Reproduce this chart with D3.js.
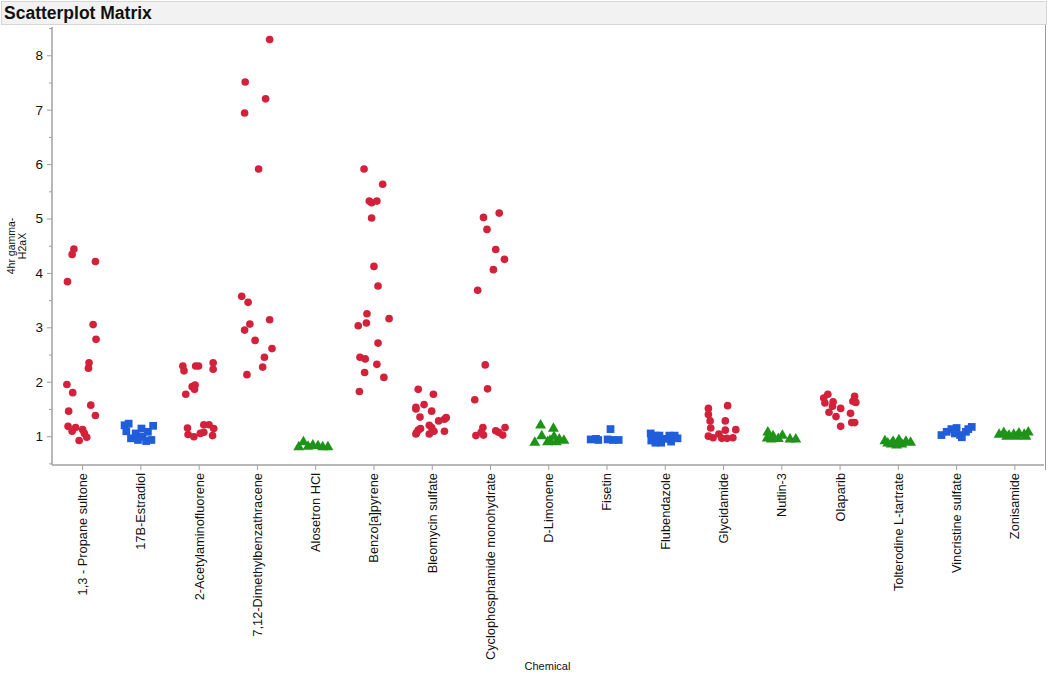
<!DOCTYPE html>
<html><head><meta charset="utf-8">
<script src="https://cdn.jsdelivr.net/npm/d3@7"></script>
<style>body{margin:0;background:#fff;font-family:"Liberation Sans",Arial,Helvetica,sans-serif;}</style>
</head><body><svg id="c" width="1050" height="675"></svg>
<script>
const categories = ["1,3 - Propane sultone","17B-Estradiol","2-Acetylaminofluorene","7,12-Dimethylbenzathracene","Alosetron HCl","Benzo[a]pyrene","Bleomycin sulfate","Cyclophosphamide monohydrate","D-Limonene","Fisetin","Flubendazole","Glycidamide","Nutlin-3","Olaparib","Tolterodine L-tartrate","Vincristine sulfate","Zonisamide"];
// marker class per chemical: 0 = red circle, 1 = blue square, 2 = green triangle
const markerClass = [0,1,0,0,2,0,0,0,2,1,1,0,2,0,2,1,2];
const yTicks = [1,2,3,4,5,6,7,8];
const yMinorTicks = [0.5,1.5,2.5,3.5,4.5,5.5,6.5,7.5,8.5];
// measured 4hr gamma-H2aX values per chemical
const values = [
 [4.44,4.34,4.21,3.84,3.05,2.78,2.35,2.25,1.95,1.80,1.57,1.46,1.38,1.18,1.16,1.09,1.12,1.05,0.98,0.92],
 [1.20,1.23,1.09,0.96,1.05,1.14,0.99,0.91,0.93,1.19,0.93,1.08],
 [2.29,2.20,2.29,2.29,2.35,2.23,1.91,1.94,1.86,1.77,1.15,1.03,0.99,1.05,1.07,1.21,1.21,1.14,1.01],
 [8.29,7.51,7.20,6.94,5.91,3.57,3.46,3.14,3.06,2.95,2.76,2.61,2.45,2.27,2.13],
 [0.80,0.89,0.81,0.83,0.82,0.80,0.80],
 [5.91,5.63,5.32,5.29,5.32,5.01,4.12,3.76,3.25,3.16,3.08,3.03,2.71,2.45,2.42,2.32,2.17,2.08,1.82],
 [1.86,1.77,1.58,1.53,1.50,1.46,1.35,1.34,1.31,1.28,1.20,1.16,1.14,1.11,1.06,1.09,1.04,1.09,1.04],
 [5.10,5.02,4.80,4.43,4.25,4.06,3.68,2.31,1.87,1.67,1.16,1.07,1.01,1.10,1.07,1.16,1.02,1.02],
 [1.20,1.14,1.00,0.88,0.89,0.99,0.92,0.94,0.92,0.89],
 [1.13,0.94,0.95,0.94,0.93,0.93,0.93],
 [1.05,0.92,0.88,1.01,0.95,1.01,1.01,0.96,0.90,0.88,1.01],
 [1.51,1.56,1.40,1.28,1.28,1.15,1.11,1.12,1.00,0.97,1.04,0.96,0.96,0.97],
 [1.07,0.96,1.00,0.95,1.01,0.94,0.94,0.94],
 [1.77,1.70,1.63,1.61,1.55,1.51,1.44,1.36,1.18,1.73,1.64,1.62,1.42,1.25,1.25],
 [0.91,0.87,0.90,0.93,0.85,0.90,0.88,0.83,0.85],
 [1.02,1.08,1.13,1.15,1.02,0.98,1.13,1.17,1.08,1.05],
 [1.03,1.06,1.01,1.03,1.05,1.03,1.07,0.99,0.99,0.99]
];
// horizontal jitter of each point, as a fraction of the category band
const jitter = [
 [-0.15,-0.18,0.22,-0.26,0.18,0.23,0.11,0.10,-0.27,-0.17,0.14,-0.24,0.22,-0.25,-0.12,-0.18,0,0.03,0.07,-0.06],
 [-0.28,-0.21,-0.25,-0.17,-0.09,0.01,0.03,0.09,0.18,0.21,-0.05,0.12],
 [-0.28,-0.26,-0.06,-0.01,0.24,0.24,-0.12,-0.07,-0.08,-0.23,-0.20,-0.19,-0.09,0.02,0.08,0.08,0.17,0.25,0.23],
 [0.21,-0.21,0.14,-0.22,0.02,-0.27,-0.16,0.21,-0.13,-0.22,-0.04,0.25,0.12,0.09,-0.18],
 [-0.29,-0.21,-0.13,-0.05,0.04,0.12,0.21],
 [-0.17,0.15,-0.08,-0.04,0.05,-0.04,0,0.07,-0.12,0.26,-0.13,-0.27,0.07,-0.24,-0.15,0.05,-0.16,0.17,-0.25],
 [-0.24,0.02,-0.14,-0.28,-0.28,-0.01,-0.21,0.24,0.21,0.11,-0.05,-0.01,-0.20,-0.24,-0.27,0.03,-0.05,0.21,-0.28],
 [0.15,-0.12,-0.06,0.09,0.24,0.05,-0.22,-0.09,-0.05,-0.27,-0.13,-0.16,-0.25,0.09,0.14,0.25,0.21,-0.12],
 [-0.14,0.08,-0.12,-0.24,-0.02,0.09,0.02,0.18,0.26,0.13],
 [0.06,-0.28,-0.19,0.01,0.10,0.20,-0.15],
 [-0.25,-0.24,-0.17,-0.10,-0.01,0.07,0.16,0.21,0.10,-0.07,-0.16],
 [-0.26,0.07,-0.26,-0.23,0.03,-0.22,0.03,0.21,-0.26,-0.18,-0.08,-0.03,0.06,0.16],
 [-0.24,-0.25,-0.15,-0.06,0.01,0.14,0.24,-0.18],
 [-0.21,-0.28,-0.12,-0.26,-0.13,0.01,-0.19,-0.07,0.01,0.25,0.22,0.27,0.18,0.20,0.25],
 [-0.23,-0.18,-0.09,0.01,0.06,0.13,0.21,-0.03,-0.12],
 [-0.26,-0.17,-0.09,0,0.06,0.09,0.20,0.26,0.16,-0.03],
 [-0.27,-0.19,-0.10,-0.02,0.07,0.16,0.23,-0.14,0.03,0.19]
];
const yTitleLines = ["4hr gamma-","H2aX"];
const xTitle = "Chemical";
const chartTitle = "Scatterplot Matrix";

const colors = ["#d3203b","#1f5ddb","#1d9418"];
const symbols = [d3.symbolCircle, d3.symbolSquare, d3.symbolTriangle];
const symSizes = [46, 60, 52];

const svg = d3.select("#c");
const font = '"Liberation Sans",Arial,Helvetica,sans-serif';

// title bar
svg.append("rect").attr("x",1.5).attr("y",1.5).attr("width",1045).attr("height",23)
  .attr("fill","#f2f2f2").attr("stroke","#d6d6d6");
svg.append("text").attr("x",4).attr("y",19).attr("font-family",font)
  .attr("font-weight","bold").attr("font-size","17.5px").attr("fill","#111").text(chartTitle);
svg.append("line").attr("x1",1045.5).attr("x2",1045.5).attr("y1",25).attr("y2",470).attr("stroke","#9a9a9a");

const pLeft = 52, pRight = 1043, pTop = 27, pBottom = 465;
const x = d3.scaleBand().domain(categories).range([53.5, 1044]).padding(0);
const y = d3.scaleLinear().domain([0.47, 8.52]).range([pBottom, pTop]);

// y axis
const gy = svg.append("g").attr("transform",`translate(${pLeft},0)`);
gy.call(d3.axisLeft(y).tickValues(yTicks).tickSize(5).tickPadding(4).tickFormat(d3.format("d")));
gy.append("g").call(d3.axisLeft(y).tickValues(yMinorTicks).tickSize(3).tickFormat(""));
gy.selectAll(".domain").remove();
gy.append("line").attr("x1",0).attr("x2",0).attr("y1",pTop).attr("y2",pBottom).attr("stroke","#a0a0a0").attr("stroke-width",1.5);
gy.selectAll(".tick line").attr("stroke","#a0a0a0");
gy.selectAll(".tick text").attr("font-family",font).attr("font-size","13.5px").attr("fill","#111");

// x axis
const gx = svg.append("g").attr("transform",`translate(0,${pBottom})`);
gx.call(d3.axisBottom(x).tickSize(5).tickPadding(4));
gx.select(".domain").remove();
gx.append("line").attr("x1",pLeft).attr("x2",pRight+1).attr("y1",0).attr("y2",0).attr("stroke","#a0a0a0").attr("stroke-width",1.5);
gx.selectAll(".tick line").attr("stroke","#a0a0a0");
gx.selectAll(".tick text").attr("font-family",font).attr("font-size","12.8px").attr("fill","#111")
  .attr("text-anchor","end").attr("dy","0.35em")
  .attr("transform","translate(0,8) rotate(-90)").attr("x",0).attr("y",0);

// axis titles
svg.append("text").attr("x",(pLeft+pRight)/2).attr("y",670).attr("text-anchor","middle")
  .attr("font-family",font).attr("font-size","11px").attr("fill","#111").text(xTitle);
const yt = svg.append("text").attr("transform","translate(15,246) rotate(-90)")
  .attr("text-anchor","middle").attr("font-family",font).attr("font-size","10.5px").attr("fill","#111");
yTitleLines.forEach((t,i)=> yt.append("tspan").attr("x",0).attr("dy", i===0? 0 : "1.05em").text(t));

// points
const pts = [];
categories.forEach((c,i)=>{
  values[i].forEach((v,j)=> pts.push({c, v, jit: jitter[i][j], k: markerClass[i]}));
});
svg.append("g").selectAll("path").data(pts).join("path")
  .attr("transform", d => `translate(${x(d.c)+x.bandwidth()/2 + d.jit*x.bandwidth()},${y(d.v)})`)
  .attr("d", d => d3.symbol().type(symbols[d.k]).size(symSizes[d.k])())
  .attr("fill", d => colors[d.k]);
</script></body></html>
